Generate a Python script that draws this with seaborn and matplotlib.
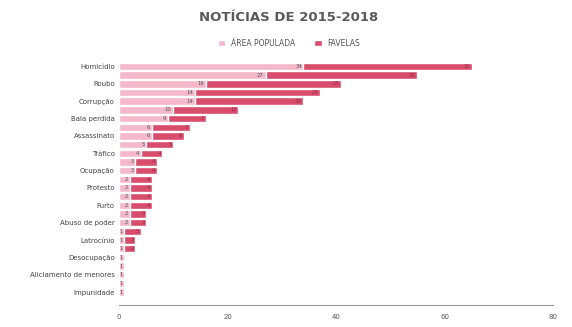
import pandas as pd
import numpy as np
import matplotlib
matplotlib.use("Agg")
import matplotlib.pyplot as plt
import seaborn as sns
from matplotlib.patches import Patch

categorias = [
    "Homicídio", "Tiroteio", "Roubo", "Assalto", "Corrupção", "Violência policial",
    "Bala perdida", "Chacina", "Assassinato", "Milícia", "Tráfico", "Agressão",
    "Ocupação", "Operação policial", "Protesto", "Sequestro", "Furto", "Estupro",
    "Abuso de poder", "Vandalismo", "Latrocínio", "Remoção", "Desocupação", "Incêndio",
    "Aliciamento de menores", "Despejo", "Impunidade", "Linchamento",
]
area_populada = [34, 27, 16, 14, 14, 10, 9, 6, 6, 5, 4, 3, 3, 2, 2, 2, 2, 2, 2, 1,
                 1, 1, 1, 1, 1, 1, 1, 0]
favelas = [31, 28, 25, 23, 20, 12, 7, 7, 6, 5, 4, 4, 4, 4, 4, 4, 4, 3, 3, 3,
           2, 2, 0, 0, 0, 0, 0, 0]
ticks_x = [0, 20, 40, 60, 80]

COR_CLARA = "#f4b8ca"
COR_ESCURA = "#d84c6c"

df = pd.DataFrame({"categoria": categorias, "area": area_populada, "favela": favelas})
df["total"] = df["area"] + df["favela"]

sns.set_style("white")
plt.rcParams["font.family"] = ["DejaVu Sans"]

fig = plt.figure(figsize=(5.72, 3.27), dpi=100)
ax = fig.add_axes([0.208, 0.067, 0.759, 0.743])

sns.barplot(data=df, x="total", y="categoria", color=COR_ESCURA, orient="h",
            width=0.85, saturation=1, ax=ax)
sns.barplot(data=df, x="area", y="categoria", color=COR_CLARA, orient="h",
            width=0.85, saturation=1, ax=ax)

# rótulos de valor
for i, row in df.iterrows():
    if row["area"] > 0:
        ax.text(row["area"] - 0.3, i, str(row["area"]), ha="right", va="center",
                fontsize=3.8, color="#555555")
    if row["favela"] > 0:
        ax.text(row["total"] - 0.3, i, str(row["favela"]), ha="right", va="center",
                fontsize=3.8, color="#9c2a45")

ax.set_xlim(0, 80)
ax.set_ylim(len(categorias) - 0.5, -0.5)
ax.set_xticks(ticks_x)
ax.set_xticklabels([str(t) for t in ticks_x], fontsize=5, color="#555555")
ax.set_yticks(range(0, len(categorias), 2))
ax.set_yticklabels(categorias[::2], fontsize=5, color="#444444")
ax.set_xlabel("")
ax.set_ylabel("")
ax.tick_params(axis="y", length=0, pad=3)
ax.tick_params(axis="x", length=5, width=0.6, color="#888888", direction="inout", pad=4)

for s in ["top", "right", "left"]:
    ax.spines[s].set_visible(False)
ax.spines["bottom"].set_color("#999999")
ax.spines["bottom"].set_linewidth(0.8)

fig.text(0.505, 0.948, "NOTÍCIAS DE 2015-2018", ha="center", va="center",
         fontsize=9.5, fontweight="bold", color="#5a5a5a")

handles = [Patch(facecolor=COR_CLARA, label="ÁREA POPULADA"),
           Patch(facecolor=COR_ESCURA, label="FAVELAS")]
fig.legend(handles=handles, loc="center", bbox_to_anchor=(0.505, 0.868), ncol=2,
           frameon=False, fontsize=5.5, handlelength=1.0, handleheight=1.0,
           columnspacing=2.5, handletextpad=0.7, labelcolor="#555555")

fig.savefig("out.png", dpi=100)
